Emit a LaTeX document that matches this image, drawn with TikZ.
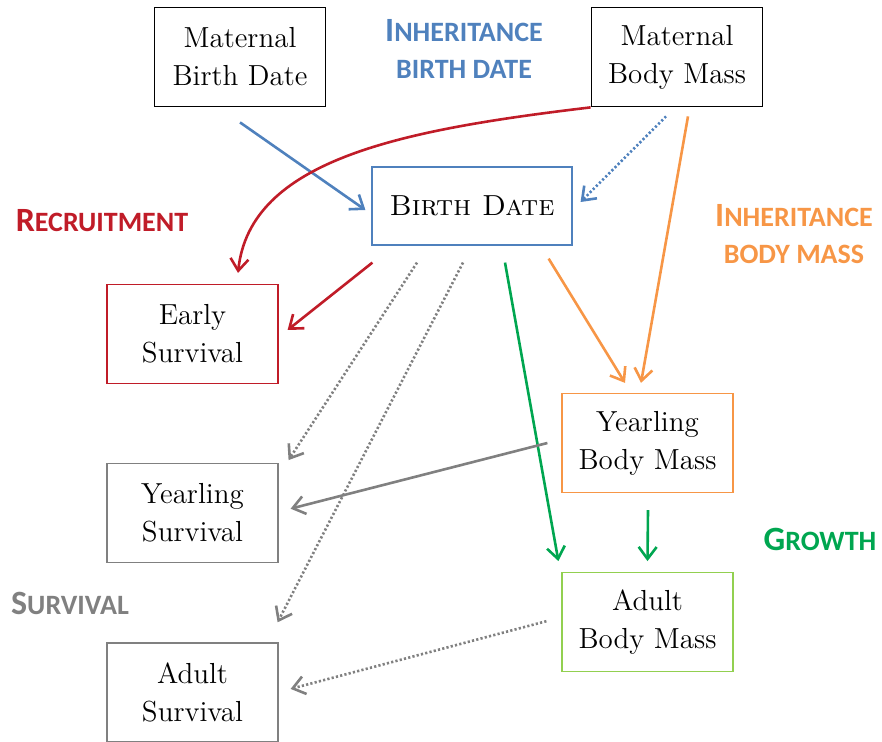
\documentclass[tikz,border=0pt]{standalone}
\usepackage{fontspec}
\usepackage{xcolor}
\usetikzlibrary{arrows.meta, positioning}
\newfontfamily\calib{Carlito}
\definecolor{inhblue}{RGB}{79,129,189}
\definecolor{recred}{RGB}{192,28,40}
\definecolor{inhorange}{RGB}{247,150,70}
\definecolor{grgreen}{RGB}{0,166,80}
\definecolor{boxgreen}{RGB}{146,208,80}
\definecolor{survgray}{RGB}{128,128,128}
% fake small caps for the group labels
\newcommand\capsl[2]{{\fontsize{17}{17}\selectfont #1}{\fontsize{14}{14}\selectfont #2}}

\begin{document}
\begin{tikzpicture}[
    x=0.5pt, y=-0.5pt,
    node distance=39.5pt,
    box/.style={draw, line width=0.9pt, minimum width=85.5pt, minimum height=49.5pt, inner sep=0pt,
        align=center, font=\fontsize{14.5}{19}\selectfont},
    grouplabel/.style={align=center, font=\calib\bfseries},
    link/.style={line width=1.3pt, -{Straight Barb[length=6pt, width=9pt, line width=1.3pt]}},
    dots/.style={link, dash pattern=on 1.1pt off 1.1pt}
]
    \useasboundingbox (0,0) rectangle (882,742);

    % Mothers
    \node (mbd) [box] at (240,57) {Maternal\\Birth Date};
    \node (mbm) [box] at (677,57) {Maternal\\Body Mass};

    % Offspring
    \node (bd) [box, draw=inhblue, line width=0.6pt, minimum width=100pt, minimum height=39pt] at (472,206) {\textsc{Birth Date}};
    \node (esurv) [box, draw=recred, line width=0.6pt] at (192.5,334) {Early\\Survival};
    \node (ysurv) [box, draw=survgray, line width=0.6pt, below=of esurv] {Yearling\\Survival};
    \node (asurv) [box, draw=survgray, line width=0.6pt, below=of ysurv] {Adult\\Survival};
    \node (ybm) [box, draw=inhorange, line width=0.6pt] at (647.5,443) {Yearling\\Body Mass};
    \node (abm) [box, draw=boxgreen, line width=0.6pt, below=of ybm] {Adult\\Body Mass};

    % Group labels
    \node (lbd) [grouplabel, text=inhblue] at (464,49) {\capsl{I}{NHERITANCE}\\[6.5pt]{\fontsize{14}{14}\selectfont BIRTH DATE}};
    \node (lrec) [grouplabel, text=recred] at (102,221) {\capsl{R}{ECRUITMENT}};
    \node (lbm) [grouplabel, text=inhorange] at (794,234) {\capsl{I}{NHERITANCE}\\[6.5pt]{\fontsize{14}{14}\selectfont BODY MASS}};
    \node (lgr) [grouplabel, text=grgreen] at (820,539) {\capsl{G}{ROWTH}};
    \node (lsurv) [grouplabel, text=survgray] at (70,603) {\capsl{S}{URVIVAL}};

    % Inheritance
    \draw[link, inhblue] ([shift={(0,15)}]mbd.south) -- ([shift={(-6,4)}]bd.west);
    \draw[dots, inhblue] ([shift={(-11,9)}]mbm.south) -- ([shift={(8,-4)}]bd.east);
    \draw[link, inhorange] ([shift={(-24,13)}]bd.south east) -- ([shift={(-22.5,-10)}]ybm.north);
    \draw[link, inhorange] ([shift={(11,9)}]mbm.south) -- ([shift={(-6.5,-10)}]ybm.north);

    % Recruitment
    \draw[link, recred] (mbm.south west) .. controls (400,130) and (250,160) .. ([shift={(45.5,-11)}]esurv.north);
    \draw[link, recred] ([shift={(1,17)}]bd.south west) -- ([shift={(9,-4)}]esurv.east);

    % Growth
    \draw[link, grgreen] ([shift={(33,17)}]bd.south) -- ([shift={(-3,-11)}]abm.north west);
    \draw[link, grgreen] ([shift={(0.5,17)}]ybm.south) -- ([shift={(0,-11)}]abm.north);

    % Survival
    \draw[dots, survgray] ([shift={(-55,17)}]bd.south) -- ([shift={(10,-3)}]ysurv.north east);
    \draw[dots, survgray] ([shift={(-9,17)}]bd.south) -- ([shift={(-1,-20)}]asurv.north east);
    \draw[link, survgray] ([shift={(-14,0)}]ybm.west) -- ([shift={(12,-4.5)}]ysurv.east);
    \draw[dots, survgray] ([shift={(-15,-1)}]abm.west) -- ([shift={(12,-3.5)}]asurv.east);
\end{tikzpicture}
\end{document}
